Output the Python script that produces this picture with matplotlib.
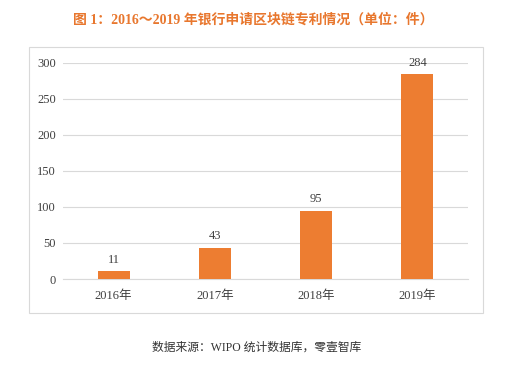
import matplotlib
matplotlib.use("Agg")
import matplotlib.pyplot as plt
from matplotlib.patches import Rectangle

categories = ["2016年", "2017年", "2018年", "2019年"]
values = [11, 43, 95, 284]
yticks = [0, 50, 100, 150, 200, 250, 300]
title = "图 1：2016～2019 年银行申请区块链专利情况（单位：件）"
source = "数据来源：WIPO 统计数据库，零壹智库"

plt.rcParams['font.family'] = ['Liberation Serif', 'Noto Sans CJK SC', 'DejaVu Sans']

fig = plt.figure(figsize=(5.12, 3.68), dpi=100)
fig.patch.set_facecolor('white')

# outer chart frame
fig.patches.append(Rectangle((29/512, 1-313/368), 454/512, 266/368,
                             transform=fig.transFigure, fill=False,
                             edgecolor='#D9D9D9', linewidth=0.8))

ax = fig.add_axes([63/512, 1-279/368, 405/512, (279-62.7)/368])
x = list(range(len(categories)))
bars = ax.bar(x, values, width=0.315, color='#ED7D31', zorder=3)
ax.set_xlim(-0.5, len(categories)-0.5)
ax.set_ylim(0, 300)
ax.set_yticks(yticks)
ax.set_xticks(x)
ax.set_xticklabels(categories)
ax.grid(axis='y', color='#D9D9D9', linewidth=0.8, zorder=0)
for s in ['top', 'right', 'left']:
    ax.spines[s].set_visible(False)
ax.spines['bottom'].set_color('#D9D9D9')
ax.spines['bottom'].set_linewidth(0.8)
ax.tick_params(axis='both', length=0, labelsize=9, colors='#404040')
ax.tick_params(axis='y', pad=5)
ax.tick_params(axis='x', pad=8)

for xi, v in zip(x, values):
    ax.annotate(str(v), (xi, v), xytext=(0, 4), textcoords='offset points',
                ha='center', va='bottom', fontsize=9, color='#404040')

fig.text(253/512, 1-20/368, title, ha='center', va='center',
         fontsize=10, color='#E8772E', fontweight='bold')
fig.text(257/512, 1-348/368, source, ha='center', va='center',
         fontsize=8.5, color='#333333')

fig.savefig('out.png', dpi=100)
